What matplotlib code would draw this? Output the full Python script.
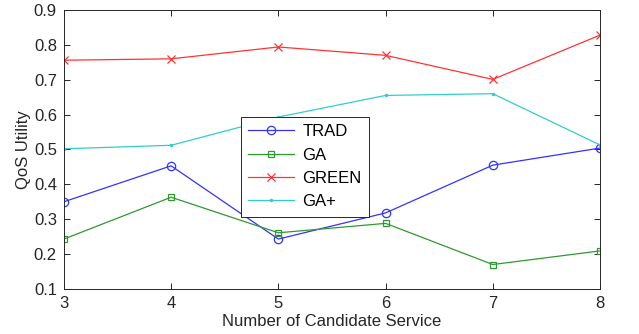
import numpy as np
import matplotlib.pyplot as plt

plt.rcParams['font.family'] = ['Liberation Sans', 'DejaVu Sans']

n_services = [3, 4, 5, 6, 7, 8]
trad = [0.350, 0.453, 0.243, 0.318, 0.455, 0.504]
ga = [0.243, 0.363, 0.261, 0.288, 0.170, 0.209]
green = [0.756, 0.760, 0.794, 0.770, 0.701, 0.828]
ga_plus = [0.502, 0.512, 0.593, 0.655, 0.660, 0.513]

fig = plt.figure(figsize=(6.39, 3.34), dpi=100)
ax = fig.add_axes([0.100, 0.135, 0.839, 0.835])

ax.plot(n_services, trad, color='#3333ff', marker='o', ms=6, mfc='none', mew=0.9, lw=0.9, label='TRAD')
ax.plot(n_services, ga, color='#2e9a2e', marker='s', ms=5, mfc='none', mew=0.9, lw=0.9, label='GA')
ax.plot(n_services, green, color='#ff3333', marker='x', ms=6, mew=0.9, lw=0.9, label='GREEN')
ax.plot(n_services, ga_plus, color='#33cccc', marker='.', ms=3, lw=0.9, label='GA+')

ax.set_xlim(3, 8)
ax.set_ylim(0.1, 0.9)
ax.set_xticks(n_services)
ax.set_yticks(np.arange(0.1, 0.91, 0.1))
ax.set_yticklabels(['%.1f' % v for v in np.arange(0.1, 0.91, 0.1)])

ax.tick_params(direction='in', top=True, right=True, length=4, width=0.7,
               colors='#262626', labelsize=12, pad=5)
for s in ax.spines.values():
    s.set_color('#262626')
    s.set_linewidth(0.7)

ax.set_xlabel('Number of Candidate Service', fontsize=12, color='#262626', labelpad=2)
ax.set_ylabel('QoS Utility', fontsize=12, color='#262626', labelpad=2)

leg = ax.legend(loc='lower left', bbox_to_anchor=(0.33, 0.259), borderaxespad=0,
                fontsize=12, frameon=True, fancybox=False, edgecolor='#262626',
                framealpha=1, handlelength=2.75, borderpad=0.45, labelspacing=0.5,
                handletextpad=0.5)
leg.get_frame().set_linewidth(0.7)

fig.savefig('out.png', dpi=100)
